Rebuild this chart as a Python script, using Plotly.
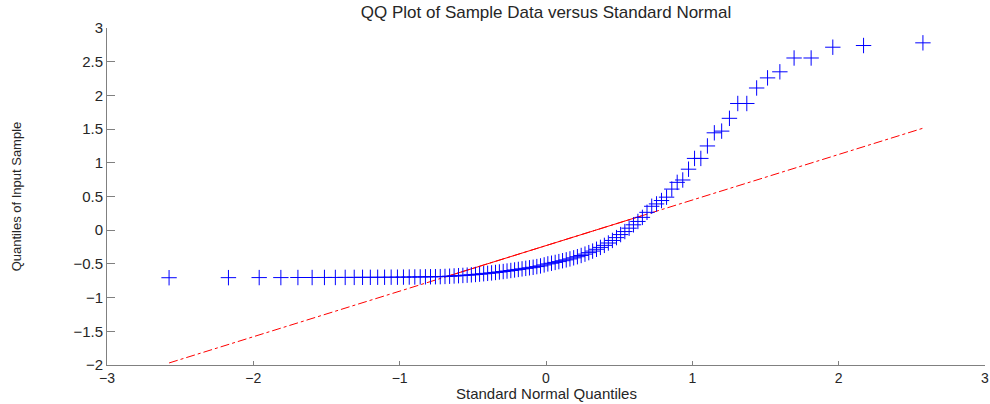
import numpy as np
import plotly.graph_objects as go
from statistics import NormalDist

# Theoretical standard normal quantiles at plotting positions (i - 0.5) / n, n = 100
normal_quantiles = [
    -2.5758, -2.1701, -1.9600, -1.8119, -1.6954, -1.5982, -1.5141, -1.4395, -1.3722, -1.3106,
    -1.2536, -1.2004, -1.1503, -1.1031, -1.0581, -1.0152, -0.9741, -0.9346, -0.8965, -0.8596,
    -0.8239, -0.7892, -0.7554, -0.7225, -0.6903, -0.6588, -0.6280, -0.5978, -0.5681, -0.5388,
    -0.5101, -0.4817, -0.4538, -0.4261, -0.3989, -0.3719, -0.3451, -0.3186, -0.2924, -0.2663,
    -0.2404, -0.2147, -0.1891, -0.1637, -0.1383, -0.1130, -0.0878, -0.0627, -0.0376, -0.0125,
    0.0125, 0.0376, 0.0627, 0.0878, 0.1130, 0.1383, 0.1637, 0.1891, 0.2147, 0.2404,
    0.2663, 0.2924, 0.3186, 0.3451, 0.3719, 0.3989, 0.4261, 0.4538, 0.4817, 0.5101,
    0.5388, 0.5681, 0.5978, 0.6280, 0.6588, 0.6903, 0.7225, 0.7554, 0.7892, 0.8239,
    0.8596, 0.8965, 0.9346, 0.9741, 1.0152, 1.0581, 1.1031, 1.1503, 1.2004, 1.2536,
    1.3106, 1.3722, 1.4395, 1.5141, 1.5982, 1.6954, 1.8119, 1.9600, 2.1701, 2.5758,
]

# Sorted sample values
sample_sorted = [
    -0.705, -0.704, -0.703, -0.703, -0.702, -0.702, -0.701, -0.701, -0.700, -0.700,
    -0.699, -0.699, -0.698, -0.698, -0.697, -0.697, -0.696, -0.695, -0.694, -0.693,
    -0.692, -0.691, -0.690, -0.689, -0.686, -0.683, -0.679, -0.675, -0.671, -0.667,
    -0.662, -0.657, -0.652, -0.646, -0.640, -0.634, -0.627, -0.620, -0.613, -0.606,
    -0.598, -0.590, -0.582, -0.574, -0.566, -0.558, -0.550, -0.540, -0.530, -0.515,
    -0.500, -0.490, -0.478, -0.466, -0.453, -0.440, -0.426, -0.410, -0.393, -0.375,
    -0.355, -0.333, -0.310, -0.283, -0.255, -0.225, -0.190, -0.152, -0.110, -0.065,
    -0.020, 0.030, 0.080, 0.130, 0.190, 0.265, 0.355, 0.390, 0.440, 0.490,
    0.610, 0.710, 0.745, 0.905, 1.065, 1.065, 1.250, 1.445, 1.470, 1.660,
    1.880, 1.880, 2.110, 2.260, 2.350, 2.555, 2.555, 2.715, 2.740, 2.780,
]

x_ticks = [-3, -2, -1, 0, 1, 2, 3]
y_ticks = [-2, -1.5, -1, -0.5, 0, 0.5, 1, 1.5, 2, 2.5, 3]

x = np.array(normal_quantiles)
y = np.array(sample_sorted)

# Reference line through the first and third quartiles
q1_y, q3_y = np.percentile(y, [25, 75], method="hazen")
q1_x, q3_x = NormalDist().inv_cdf(0.25), NormalDist().inv_cdf(0.75)
slope = (q3_y - q1_y) / (q3_x - q1_x)
ext_x = np.array([x.min(), x.max()])
ext_y = q1_y + slope * (ext_x - q1_x)

font_family = "Liberation Sans, Arial, sans-serif"
text_color = "#262626"
axis_color = "#808080"

fig = go.Figure()
fig.add_trace(go.Scatter(
    x=ext_x, y=ext_y, mode="lines",
    line=dict(color="red", width=1, dash="dashdot"),
    hoverinfo="skip", showlegend=False,
))
fig.add_trace(go.Scatter(
    x=[q1_x, q3_x], y=[q1_y, q3_y], mode="lines",
    line=dict(color="red", width=1),
    hoverinfo="skip", showlegend=False,
))
fig.add_trace(go.Scatter(
    x=x, y=y, mode="markers",
    marker=dict(symbol="cross-thin", size=11, line=dict(color="blue", width=1)),
    showlegend=False,
))

fig.update_layout(
    width=990, height=404,
    margin=dict(l=107, r=5, t=28, b=39, autoexpand=False),
    paper_bgcolor="white", plot_bgcolor="white",
    font=dict(family=font_family, size=15, color=text_color),
    title=dict(
        text="QQ Plot of Sample Data versus Standard Normal",
        x=0.5, xanchor="center", xref="paper",
        y=0.985, yanchor="top",
        font=dict(size=17, color=text_color),
    ),
    annotations=[dict(
        text="Standard Normal Quantiles",
        xref="paper", yref="paper", x=0.5, y=0,
        xanchor="center", yanchor="top", yshift=-19, borderpad=0,
        showarrow=False, font=dict(size=15, color=text_color),
    )],
)
fig.update_xaxes(
    range=[-3, 3], tickmode="array", tickvals=x_ticks,
    showgrid=False, zeroline=False,
    showline=True, linecolor=axis_color, linewidth=1,
    ticks="inside", ticklen=4, tickcolor=axis_color,
    ticklabeloverflow="allow", automargin=False,
    tickfont=dict(size=14, color=text_color),
)
fig.update_yaxes(
    range=[-2, 3], tickmode="array", tickvals=y_ticks,
    showgrid=False, zeroline=False,
    showline=True, linecolor=axis_color, linewidth=1,
    ticks="inside", ticklen=8, tickcolor=axis_color,
    automargin=False,
    tickfont=dict(size=15, color=text_color),
    title=dict(text="Quantiles of Input Sample", standoff=48,
               font=dict(size=13, color=text_color)),
)

fig.write_html("out.html")
